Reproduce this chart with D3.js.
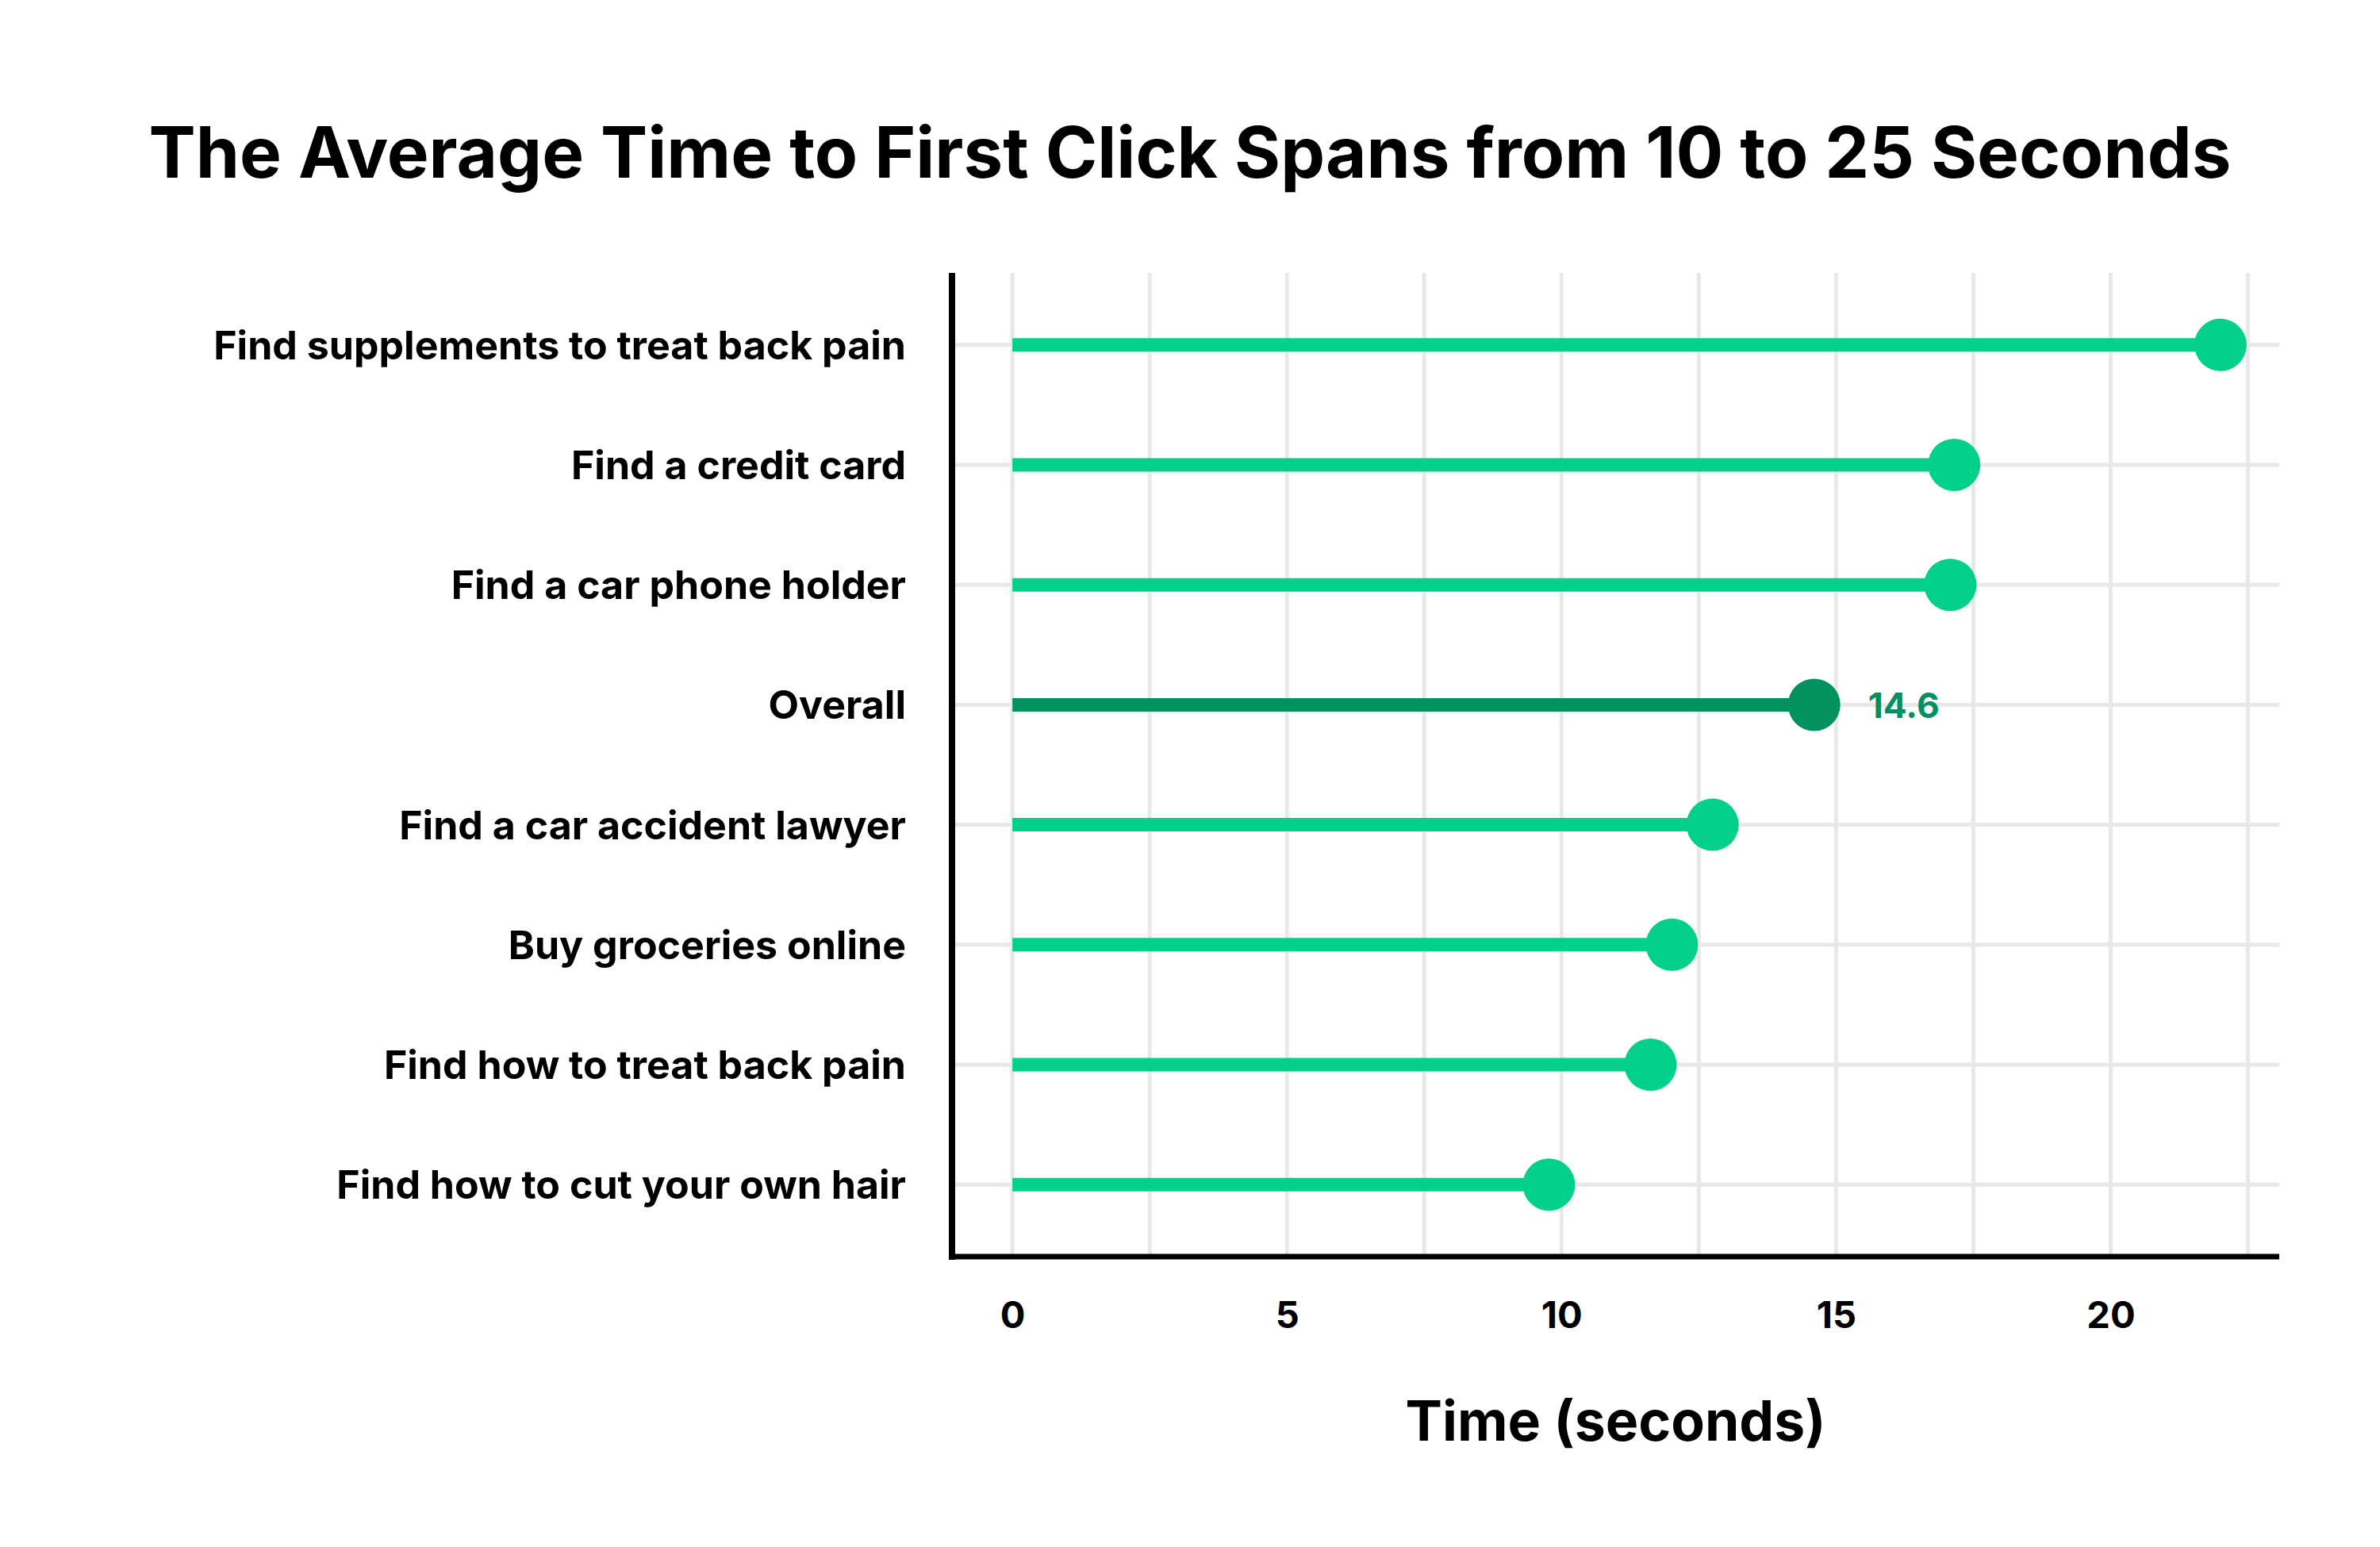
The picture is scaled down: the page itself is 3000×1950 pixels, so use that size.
<!DOCTYPE html>
<html>
<head>
<meta charset="utf-8">
<script src="https://cdn.jsdelivr.net/npm/d3@7"></script>
<style>
  html, body { margin: 0; padding: 0; background: #ffffff; }
  svg { display: block; }
  text { font-family: "Inter", "Open Sans", sans-serif; font-weight: 700; }
</style>
</head>
<body>
<svg id="chart" width="3000" height="1950"></svg>
<script>
// ---- data ----
const categories = [
  "Find supplements to treat back pain",
  "Find a credit card",
  "Find a car phone holder",
  "Overall",
  "Find a car accident lawyer",
  "Buy groceries online",
  "Find how to treat back pain",
  "Find how to cut your own hair"
];
const values = [22.0, 17.15, 17.08, 14.6, 12.75, 12.01, 11.62, 9.77];
const highlighted = ["Overall"];
const tickValues = [0, 5, 10, 15, 20];
const gridValues = [0, 2.5, 5, 7.5, 10, 12.5, 15, 17.5, 20, 22.5];
const titleText = "The Average Time to First Click Spans from 10 to 25 Seconds";
const xTitleText = "Time (seconds)";

// ---- layout ----
const W = 3000, H = 1950;
const plot = { left: 1200, right: 2873, top: 344, bottom: 1584 };
const colorMain = "#00d08a";
const colorHi = "#00915f";
const gridColor = "#e8e8e8";

const svg = d3.select("#chart");
svg.append("rect").attr("width", W).attr("height", H).attr("fill", "#fff");

const x = d3.scaleLinear().domain([-1.1, 23.07]).range([plot.left, plot.right]);
const y = d3.scalePoint().domain(categories).range([plot.top, plot.bottom]).padding(0.6);

function fitText(sel, targetWidth, startSize) {
  sel.attr("font-size", startSize);
  const w = sel.node().getComputedTextLength();
  const size = startSize * targetWidth / w;
  sel.attr("font-size", size);
  return size;
}

// title
const title = svg.append("text")
  .attr("x", 1500).attr("y", 224)
  .attr("text-anchor", "middle")
  .attr("fill", "#000")
  .text(titleText);
fitText(title, 2625, 84);

// grid verticals
svg.append("g").selectAll("line").data(gridValues).join("line")
  .attr("x1", d => x(d)).attr("x2", d => x(d))
  .attr("y1", plot.top).attr("y2", plot.bottom)
  .attr("stroke", gridColor).attr("stroke-width", 5);

// grid horizontals
svg.append("g").selectAll("line").data(categories).join("line")
  .attr("x1", plot.left).attr("x2", plot.right)
  .attr("y1", d => y(d)).attr("y2", d => y(d))
  .attr("stroke", gridColor).attr("stroke-width", 5);

// axes lines
svg.append("line")
  .attr("x1", plot.left).attr("x2", plot.left)
  .attr("y1", plot.top).attr("y2", plot.bottom + 4)
  .attr("stroke", "#000").attr("stroke-width", 8);
svg.append("line")
  .attr("x1", plot.left - 4).attr("x2", plot.right)
  .attr("y1", plot.bottom).attr("y2", plot.bottom)
  .attr("stroke", "#000").attr("stroke-width", 7);

const rows = categories.map((c, i) => ({ cat: c, val: values[i], hi: highlighted.includes(c) }));

// stems
svg.append("g").selectAll("line").data(rows).join("line")
  .attr("x1", x(0)).attr("x2", d => x(d.val))
  .attr("y1", d => y(d.cat)).attr("y2", d => y(d.cat))
  .attr("stroke", d => d.hi ? colorHi : colorMain)
  .attr("stroke-width", 17);

// dots
svg.append("g").selectAll("circle").data(rows).join("circle")
  .attr("cx", d => x(d.val)).attr("cy", d => y(d.cat))
  .attr("r", 33)
  .attr("fill", d => d.hi ? colorHi : colorMain);

// value label for highlighted
rows.filter(d => d.hi).forEach(d => {
  const t = svg.append("text")
    .attr("x", x(d.val) + 68).attr("y", y(d.cat) + 17)
    .attr("fill", colorHi)
    .text(d3.format(".1f")(d.val));
  fitText(t, 90, 47);
});

// category labels
const labelG = svg.append("g");
const labels = labelG.selectAll("text").data(categories).join("text")
  .attr("x", 1142)
  .attr("text-anchor", "end")
  .attr("fill", "#000")
  .text(d => d);
labels.attr("font-size", 46);
const longest = d3.max(labels.nodes(), n => n.getComputedTextLength());
const labelSize = 46 * 873 / longest;
labels.attr("font-size", labelSize)
  .attr("y", d => y(d) + labelSize * 0.36);

// x tick labels
const xAxis = d3.axisBottom(x).tickValues(tickValues).tickSize(0).tickPadding(0).tickFormat(d3.format("d"));
const gx = svg.append("g").attr("transform", `translate(0, ${plot.bottom})`).call(xAxis);
gx.select(".domain").remove();
gx.selectAll("text")
  .attr("font-family", "Inter, 'Open Sans', sans-serif")
  .attr("font-weight", 700)
  .attr("font-size", 47)
  .attr("fill", "#000")
  .attr("dy", null)
  .attr("y", 1674 - plot.bottom);

// x title
const xt = svg.append("text")
  .attr("x", (plot.left + plot.right) / 2).attr("y", 1816)
  .attr("text-anchor", "middle")
  .attr("fill", "#000")
  .text(xTitleText);
fitText(xt, 530, 72);
</script>
</body>
</html>
